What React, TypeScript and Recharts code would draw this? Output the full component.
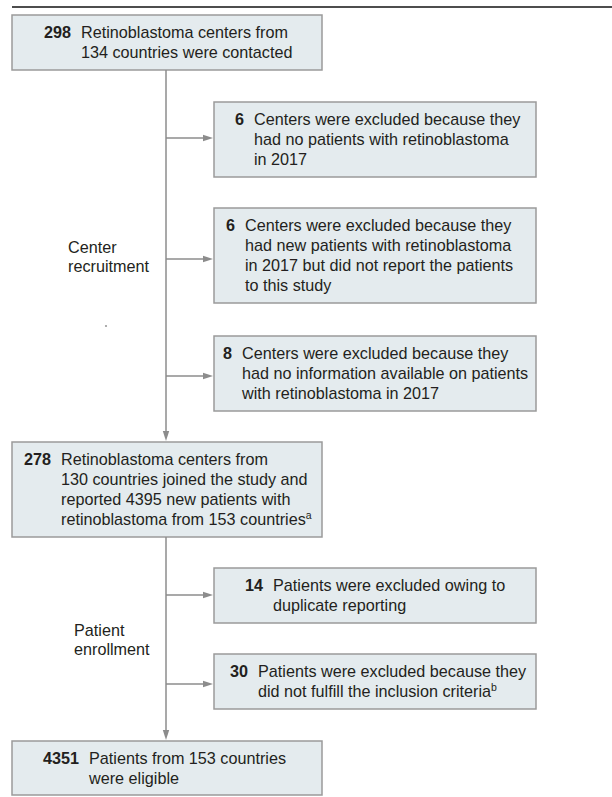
import React from 'react';
import {
  ComposedChart,
  XAxis,
  YAxis,
  ReferenceArea,
  ReferenceLine,
  ReferenceDot,
  Scatter,
} from 'recharts';

// ---- content ----
const boxCounts = ['298', '6', '6', '8', '278', '14', '30', '4351'];
const boxLines: string[][] = [
  ['Retinoblastoma centers from', '134 countries were contacted'],
  ['Centers were excluded because they', 'had no patients with retinoblastoma', 'in 2017'],
  [
    'Centers were excluded because they',
    'had new patients with retinoblastoma',
    'in 2017 but did not report the patients',
    'to this study',
  ],
  ['Centers were excluded because they', 'had no information available on patients', 'with retinoblastoma in 2017'],
  [
    'Retinoblastoma centers from',
    '130 countries joined the study and',
    'reported 4395 new patients with',
    'retinoblastoma from 153 countries',
  ],
  ['Patients were excluded owing to', 'duplicate reporting'],
  ['Patients were excluded because they', 'did not fulfill the inclusion criteria'],
  ['Patients from 153 countries', 'were eligible'],
];
const boxNotes = ['', '', '', '', 'a', '', 'b', ''];
const sideLabels: string[][] = [
  ['Center', 'recruitment'],
  ['Patient', 'enrollment'],
];

// ---- layout (data units = px) ----
const boxX1 = [12, 214, 214, 214, 12, 214, 214, 12];
const boxX2 = [322, 536, 536, 536, 322, 536, 536, 322];
const boxY1 = [15, 102, 208, 336, 442, 568, 654, 741];
const boxY2 = [70, 177, 303, 411, 537, 623, 709, 795];
const numInset = [59, 30, 21, 18, 39, 49, 34, 67];
const ruleX = [12, 612];
const ruleY = 7;
const trunkX = 166;
const trunkStart = [70, 537];
const trunkEnd = [441, 740];
const branchY = [138, 259, 376, 595, 684];
const branchEndX = 213;
const sideX = [68, 74];
const sideY = [247, 630];
const stray = [{ x: 106, y: 326 }];

const FONT = '"Liberation Sans", Arial, sans-serif';
const TEXT = '#231f20';
const LINE = '#8c8c8c';
const LH = 20;
const FS = 16.2;

function BoxText(props: any) {
  const { viewBox, idx } = props;
  if (!viewBox) return null;
  const { x, y, height } = viewBox;
  const lines = boxLines[idx];
  const first = y + (height - lines.length * LH) / 2 + 15.5;
  const nx = x + numInset[idx];
  return (
    <g>
      <text x={nx} y={first} textAnchor="end" fontWeight="bold" fontSize={FS} fontFamily={FONT} fill={TEXT}>
        {boxCounts[idx]}
      </text>
      {lines.map((l, i) => (
        <text key={i} x={nx + 10} y={first + i * LH} fontSize={FS} fontFamily={FONT} fill={TEXT}>
          {l}
          {i === lines.length - 1 && boxNotes[idx] ? (
            <tspan dy={-6} fontSize={10.5}>
              {boxNotes[idx]}
            </tspan>
          ) : null}
        </text>
      ))}
    </g>
  );
}

const arrowRight = (p: any) => (
  <path d={`M${p.cx},${p.cy} L${p.cx - 10},${p.cy - 3.2} L${p.cx - 10},${p.cy + 3.2} Z`} fill={LINE} />
);
const arrowDown = (p: any) => (
  <path d={`M${p.cx},${p.cy} L${p.cx - 3.2},${p.cy - 10} L${p.cx + 3.2},${p.cy - 10} Z`} fill={LINE} />
);

export default function App() {
  return (
    <div style={{ position: 'absolute', left: 0, top: 0, width: 612, height: 797 }}>
      <ComposedChart width={612} height={797} margin={{ top: 0, right: 0, bottom: 0, left: 0 }} data={stray}>
        <XAxis type="number" dataKey="x" domain={[0, 612]} allowDataOverflow hide />
        <YAxis type="number" dataKey="y" domain={[0, 797]} allowDataOverflow reversed hide />

        <ReferenceLine
          segment={[
            { x: ruleX[0], y: ruleY },
            { x: ruleX[1], y: ruleY },
          ]}
          stroke="#4d4d4d"
          strokeWidth={2}
          ifOverflow="visible"
        />

        {trunkStart.map((s, i) => (
          <ReferenceLine
            key={`t${i}`}
            segment={[
              { x: trunkX, y: s },
              { x: trunkX, y: trunkEnd[i] - 6 },
            ]}
            stroke={LINE}
            strokeWidth={1.5}
          />
        ))}
        {trunkEnd.map((e, i) => (
          <ReferenceDot key={`ta${i}`} x={trunkX} y={e} r={3} shape={arrowDown} />
        ))}

        {branchY.map((by, i) => (
          <ReferenceLine
            key={`b${i}`}
            segment={[
              { x: trunkX, y: by },
              { x: branchEndX - 6, y: by },
            ]}
            stroke={LINE}
            strokeWidth={1.5}
          />
        ))}
        {branchY.map((by, i) => (
          <ReferenceDot key={`ba${i}`} x={branchEndX} y={by} r={3} shape={arrowRight} />
        ))}

        {boxCounts.map((c, i) => (
          <ReferenceArea
            key={`box${i}`}
            x1={boxX1[i]}
            x2={boxX2[i]}
            y1={boxY1[i]}
            y2={boxY2[i]}
            fill="#e4ebee"
            fillOpacity={1}
            stroke="#9b9b9b"
            strokeWidth={1.5}
            label={(p: any) => <BoxText viewBox={p.viewBox} idx={i} />}
          />
        ))}

        {sideLabels.map((lines, i) => (
          <ReferenceDot
            key={`s${i}`}
            x={sideX[i]}
            y={sideY[i]}
            r={1}
            shape={(p: any) => (
              <g>
                {lines.map((l, j) => (
                  <text key={j} x={p.cx} y={p.cy + 5.5 + j * 19} fontSize={FS} fontFamily={FONT} fill={TEXT}>
                    {l}
                  </text>
                ))}
              </g>
            )}
          />
        ))}

        <Scatter
          dataKey="y"
          isAnimationActive={false}
          shape={(p: any) => <circle cx={p.cx} cy={p.cy} r={1.1} fill="#9a9a9a" />}
        />
      </ComposedChart>
    </div>
  );
}
